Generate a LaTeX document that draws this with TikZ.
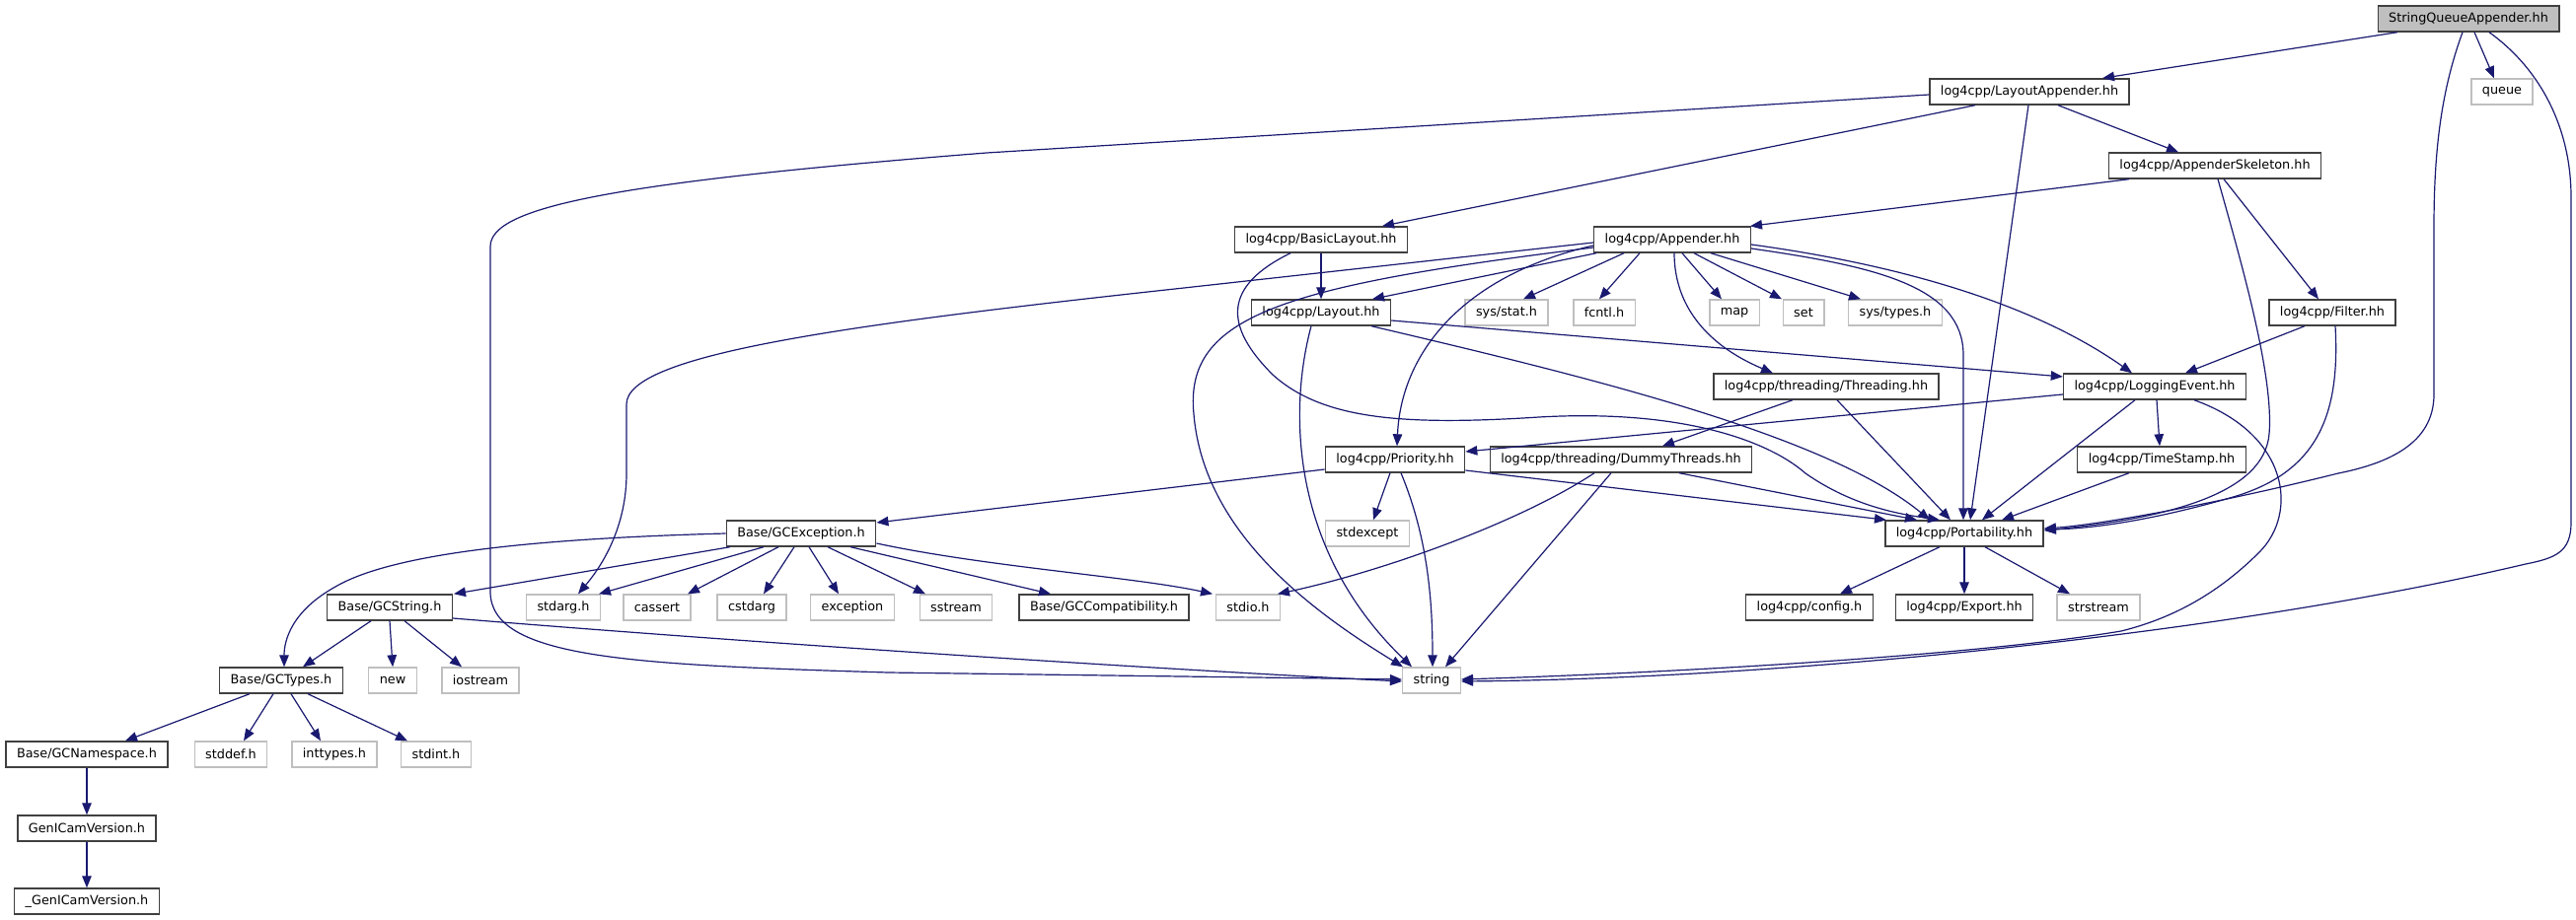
\documentclass[tikz,border=0pt]{standalone}
\usepackage{fontspec}
\setmainfont{DejaVu Sans}
\usetikzlibrary{arrows.meta}
\definecolor{edgecol}{HTML}{191970}
\definecolor{boxdark}{HTML}{404040}
\definecolor{boxlight}{HTML}{BFBFBF}
\tikzset{
  hdr/.style={draw=boxdark, line width=1.4pt, fill=white, minimum height=26pt, inner xsep=11pt, inner ysep=0pt, font=\fontsize{12.8}{15}\selectfont},
  ext/.style={hdr, draw=boxlight},
  root/.style={hdr, fill=boxlight},
  e/.style={draw=edgecol, line width=1.2pt, -{Triangle[length=12pt,width=9.5pt]}}
}
\begin{document}
\begin{tikzpicture}[x=1pt,y=-1pt]
\useasboundingbox (0,0) rectangle (2611,933);
% nodes
\node[root] (SQA) at (2502,19) {StringQueueAppender.hh};
\node[ext] (queue) at (2536,93) {queue};
\node[hdr] (LA) at (2057,93) {log4cpp/LayoutAppender.hh};
\node[hdr] (AS) at (2245,168) {log4cpp/AppenderSkeleton.hh};
\node[hdr] (BL) at (1339,243) {log4cpp/BasicLayout.hh};
\node[hdr] (App) at (1695,243) {log4cpp/Appender.hh};
\node[hdr] (Lay) at (1339,317) {log4cpp/Layout.hh};
\node[ext] (stat) at (1527,317) {sys/stat.h};
\node[ext] (fcntl) at (1626,317) {fcntl.h};
\node[ext] (map) at (1758,317) {map};
\node[ext] (set) at (1828,317) {set};
\node[ext] (types) at (1921,317) {sys/types.h};
\node[hdr] (Filter) at (2364,317) {log4cpp/Filter.hh};
\node[hdr] (Thr) at (1851,392) {log4cpp/threading/Threading.hh};
\node[hdr] (LE) at (2184,392) {log4cpp/LoggingEvent.hh};
\node[hdr] (Pri) at (1414,466) {log4cpp/Priority.hh};
\node[hdr] (Dummy) at (1643,466) {log4cpp/threading/DummyThreads.hh};
\node[hdr] (TS) at (2191,466) {log4cpp/TimeStamp.hh};
\node[hdr] (Port) at (1991,541) {log4cpp/Portability.hh};
\node[ext] (stdexcept) at (1386,541) {stdexcept};
\node[hdr] (GCE) at (812,541) {Base/GCException.h};
\node[hdr] (config) at (1834,616) {log4cpp/config.h};
\node[hdr] (Export) at (1991,616) {log4cpp/Export.hh};
\node[ext] (strstream) at (2127,616) {strstream};
\node[hdr] (GCS) at (395,616) {Base/GCString.h};
\node[ext] (stdarg) at (571,616) {stdarg.h};
\node[ext] (cassert) at (666,616) {cassert};
\node[ext] (cstdarg) at (762,616) {cstdarg};
\node[ext] (exception) at (864,616) {exception};
\node[ext] (sstream) at (969,616) {sstream};
\node[hdr] (GCC) at (1119,616) {Base/GCCompatibility.h};
\node[ext] (stdio) at (1265,616) {stdio.h};
\node[ext] (string) at (1451,690) {string};
\node[hdr] (GCT) at (285,690) {Base/GCTypes.h};
\node[ext] (new) at (398,690) {new};
\node[ext] (iostream) at (487,690) {iostream};
\node[hdr] (GCN) at (88,765) {Base/GCNamespace.h};
\node[ext] (stddef) at (234,765) {stddef.h};
\node[ext] (inttypes) at (339,765) {inttypes.h};
\node[ext] (stdint) at (442,765) {stdint.h};
\node[hdr] (GV) at (88,840) {GenICamVersion.h};
\node[hdr] (GV2) at (88,914) {\_GenICamVersion.h};
% edges from StringQueueAppender
\draw[e] ([xshift=-72pt]SQA.south) -- ([xshift=74pt]LA.north);
\draw[e] ([xshift=6pt]SQA.south) -- ([xshift=-8pt]queue.north);
\draw[e] ([xshift=-6pt]SQA.south) .. controls (2475,90) and (2467,150) .. (2467,230) -- (2467,400) .. controls (2467,450) and (2420,470) .. (2370,480) .. controls (2250,510) and (2130,532) .. ([yshift=5pt]Port.east);
\draw[e] ([xshift=21pt]SQA.south) .. controls (2575,70) and (2606,130) .. (2606,200) -- (2606,530) .. controls (2606,560) and (2590,566) .. (2560,572) .. controls (2250,645) and (1800,688) .. ([yshift=-1pt]string.east);
% LayoutAppender
\draw[e] ([yshift=-3pt]LA.west) -- (1000,155) .. controls (620,185) and (497,210) .. (497,250) -- (497,600) .. controls (497,668) and (640,674) .. (900,682) -- ([yshift=1pt]string.west);
\draw[e] ([xshift=-55pt]LA.south) -- ([xshift=62pt]BL.north);
\draw[e] ([xshift=29pt]LA.south) -- ([xshift=-37pt]AS.north);
\draw[e] ([xshift=-1pt]LA.south) -- ([xshift=6pt]Port.north);
% AppenderSkeleton
\draw[e] ([xshift=-87pt]AS.south) -- ([xshift=79pt]App.north);
\draw[e] ([xshift=3pt]AS.south) .. controls (2270,260) and (2305,380) .. (2300,440) .. controls (2295,500) and (2200,525) .. ([yshift=3pt]Port.east);
\draw[e] ([xshift=9pt]AS.south) -- ([xshift=-14pt]Filter.north);
% BasicLayout
\draw[e] (BL.south) -- (Lay.north);
\draw[e] ([xshift=-31pt]BL.south) .. controls (1240,290) and (1240,330) .. (1290,380) .. controls (1340,425) and (1420,432) .. (1560,423) .. controls (1700,415) and (1790,445) .. (1830,480) .. controls (1880,515) and (1930,522) .. ([xshift=-25pt]Port.north);
% Appender
\draw[e] ([xshift=-77pt]App.south) -- ([xshift=52pt]Lay.north);
\draw[e] ([xshift=-49pt]App.south) -- ([xshift=17pt]stat.north);
\draw[e] ([xshift=-33pt]App.south) -- ([xshift=-5pt]fcntl.north);
\draw[e] ([xshift=10pt]App.south) -- ([xshift=-13pt]map.north);
\draw[e] ([xshift=22pt]App.south) -- ([xshift=-22pt]set.north);
\draw[e] ([xshift=39pt]App.south) -- ([xshift=-35pt]types.north);
\draw[e] ([xshift=2pt]App.south) .. controls (1697,310) and (1730,350) .. ([xshift=-54pt]Thr.north);
\draw[e] ([yshift=-6pt]App.west) .. controls (1480,280) and (1420,360) .. ([xshift=2pt]Pri.north);
\draw[e] ([yshift=-9pt]App.east) .. controls (1900,270) and (1990,290) .. (1990,360) -- ([xshift=-1pt]Port.north);
\draw[e] ([yshift=-5pt]App.east) .. controls (1900,265) and (2050,300) .. ([xshift=-23pt]LE.north);
\draw[e] ([yshift=-8pt]App.west) .. controls (1300,290) and (1200,320) .. (1210,420) .. controls (1220,540) and (1330,620) .. ([xshift=-29pt]string.north);
\draw[e] ([yshift=-3pt]App.west) -- (1200,292) .. controls (850,330) and (635,360) .. (635,410) -- (635,480) .. controls (635,540) and (605,580) .. ([xshift=15pt]stdarg.north);
% Layout
\draw[e] ([xshift=-10pt]Lay.south) .. controls (1305,420) and (1310,560) .. ([xshift=-20pt]string.north);
\draw[e] ([xshift=51pt]Lay.south) .. controls (1600,380) and (1850,440) .. ([xshift=-35pt]Port.north);
\draw[e] ([yshift=-8pt]Lay.east) -- ([yshift=10pt]LE.west);
% Filter
\draw[e] ([xshift=-28pt]Filter.south) -- ([xshift=31pt]LE.north);
\draw[e] ([xshift=3pt]Filter.south) .. controls (2372,420) and (2350,480) .. (2260,505) .. controls (2180,528) and (2120,536) .. ([yshift=4pt]Port.east);
% Threading
\draw[e] ([xshift=-34pt]Thr.south) -- ([xshift=42pt]Dummy.north);
\draw[e] ([xshift=11pt]Thr.south) -- ([xshift=-14pt]Port.north);
% LoggingEvent
\draw[e] ([yshift=-8pt]LE.west) -- ([yshift=8pt]Pri.east);
\draw[e] ([xshift=2pt]LE.south) -- ([xshift=-2pt]TS.north);
\draw[e] ([xshift=-20pt]LE.south) -- ([xshift=18pt]Port.north);
\draw[e] ([xshift=40pt]LE.south) .. controls (2320,440) and (2330,520) .. (2290,560) .. controls (2240,610) and (2190,630) .. (2150,640) .. controls (2000,665) and (1700,682) .. ([yshift=1pt]string.east);
% DummyThreads
\draw[e] ([xshift=-27pt]Dummy.south) .. controls (1540,530) and (1400,580) .. ([xshift=30pt]stdio.north);
\draw[e] ([xshift=-10pt]Dummy.south) -- ([xshift=14pt]string.north);
\draw[e] ([xshift=59pt]Dummy.south) -- ([xshift=-48pt]Port.north);
% Priority
\draw[e] ([yshift=-10pt]Pri.west) -- ([yshift=11pt]GCE.east);
\draw[e] ([xshift=-5pt]Pri.south) -- ([xshift=6pt]stdexcept.north);
\draw[e] ([xshift=6pt]Pri.south) .. controls (1445,540) and (1452,600) .. ([xshift=1pt]string.north);
\draw[e] ([yshift=-11pt]Pri.east) -- ([xshift=-79pt]Port.north);
% TimeStamp
\draw[e] ([xshift=-33pt]TS.south) -- ([xshift=38pt]Port.north);
% Portability
\draw[e] ([xshift=-25pt]Port.south) -- ([xshift=31pt]config.north);
\draw[e] (Port.south) -- (Export.north);
\draw[e] ([xshift=21pt]Port.south) -- ([xshift=-29pt]strstream.north);
% GCException
\draw[e] (GCE.west) .. controls (550,546) and (400,560) .. (340,595) .. controls (295,620) and (288,650) .. ([xshift=3pt]GCT.north);
\draw[e] ([xshift=-72pt]GCE.south) -- ([xshift=65pt]GCS.north);
\draw[e] ([xshift=-38pt]GCE.south) -- ([xshift=36pt]stdarg.north);
\draw[e] ([xshift=-23pt]GCE.south) -- ([xshift=31pt]cassert.north);
\draw[e] ([xshift=-7pt]GCE.south) -- ([xshift=12pt]cstdarg.north);
\draw[e] ([xshift=8pt]GCE.south) -- ([xshift=-14pt]exception.north);
\draw[e] ([xshift=27pt]GCE.south) -- ([xshift=-31pt]sstream.north);
\draw[e] ([xshift=50pt]GCE.south) -- ([xshift=-54pt]GCC.north);
\draw[e] ([yshift=-10pt]GCE.east) .. controls (1000,575) and (1150,585) .. ([xshift=-36pt]stdio.north);
% GCString
\draw[e] ([xshift=-19pt]GCS.south) -- ([xshift=22pt]GCT.north);
\draw[e] (GCS.south) -- (new.north);
\draw[e] ([xshift=15pt]GCS.south) -- ([xshift=-19pt]iostream.north);
\draw[e] ([yshift=-11pt]GCS.east) .. controls (800,655) and (1200,680) .. ([yshift=-1pt]string.west);
% GCTypes
\draw[e] ([xshift=-32pt]GCT.south) -- ([xshift=39pt]GCN.north);
\draw[e] ([xshift=-8pt]GCT.south) -- ([xshift=13pt]stddef.north);
\draw[e] ([xshift=10pt]GCT.south) -- ([xshift=-14pt]inttypes.north);
\draw[e] ([xshift=27pt]GCT.south) -- ([xshift=-29pt]stdint.north);
\draw[e] (GCN.south) -- (GV.north);
\draw[e] (GV.south) -- (GV2.north);
\end{tikzpicture}
\end{document}
